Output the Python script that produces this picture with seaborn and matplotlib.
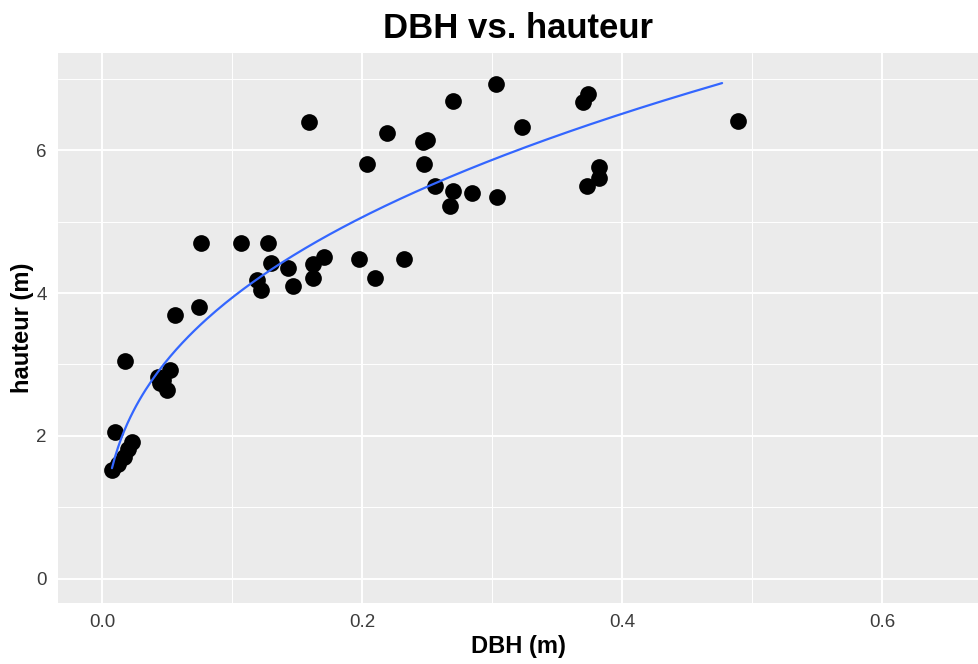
import numpy as np
import pandas as pd
import seaborn as sns
import matplotlib
matplotlib.use("Agg")
import matplotlib.pyplot as plt
from matplotlib.ticker import FixedLocator, FormatStrFormatter

# Diamètre à hauteur de poitrine (m) et hauteur totale (m) des arbres mesurés
dbh = [0.0077, 0.0123, 0.0169, 0.020, 0.023, 0.010, 0.018,
       0.043, 0.045, 0.047, 0.050, 0.052, 0.056, 0.075, 0.076,
       0.107, 0.119, 0.122, 0.128, 0.130, 0.143, 0.147, 0.159,
       0.162, 0.162, 0.171, 0.198, 0.204, 0.210, 0.219, 0.232,
       0.247, 0.250, 0.248, 0.256, 0.268, 0.270, 0.270, 0.285,
       0.303, 0.304, 0.323, 0.370, 0.374, 0.373, 0.382, 0.382,
       0.489]
hauteur = [1.52, 1.61, 1.71, 1.82, 1.92, 2.06, 3.05,
           2.83, 2.74, 2.78, 2.64, 2.92, 3.69, 3.80, 4.70,
           4.70, 4.18, 4.04, 4.70, 4.42, 4.35, 4.10, 6.39,
           4.41, 4.21, 4.50, 4.48, 5.80, 4.21, 6.24, 4.48,
           6.11, 6.14, 5.80, 5.50, 5.22, 5.43, 6.69, 5.40,
           6.92, 5.34, 6.32, 6.67, 6.78, 5.50, 5.76, 5.61,
           6.41]

# Étendue de la courbe ajustée
courbe_x_min = 0.0077
courbe_x_max = 0.477

df = pd.DataFrame({"DBH": dbh, "hauteur": hauteur})

# Ajustement puissance : hauteur = a * DBH^b
b, ln_a = np.polyfit(np.log(df["DBH"]), np.log(df["hauteur"]), 1)
xs = np.linspace(courbe_x_min, courbe_x_max, 200)
fit = pd.DataFrame({"DBH": xs, "hauteur": np.exp(ln_a) * xs ** b})

sns.set_theme(style="darkgrid", rc={
    "axes.facecolor": "#EBEBEB",
    "grid.color": "white",
    "axes.edgecolor": "#EBEBEB",
})
plt.rcParams["font.family"] = ["Liberation Sans", "DejaVu Sans"]

fig = plt.figure(figsize=(9.79, 6.64), dpi=100)
W, H = 979, 664
ax = fig.add_axes([58 / W, (H - 603) / H, (979 - 58) / W, (603 - 53) / H])

sns.scatterplot(data=df, x="DBH", y="hauteur", ax=ax, color="black",
                s=145, linewidth=0, zorder=3)
sns.lineplot(data=fit, x="DBH", y="hauteur", ax=ax, color="#3366FF",
             linewidth=1.6, zorder=4)

ax.set_xlim(-0.0338, 0.6746)
ax.set_ylim(-0.336, 7.357)

ax.xaxis.set_major_locator(FixedLocator([0.0, 0.2, 0.4, 0.6]))
ax.xaxis.set_major_formatter(FormatStrFormatter("%.1f"))
ax.xaxis.set_minor_locator(FixedLocator([0.1, 0.3, 0.5]))
ax.yaxis.set_major_locator(FixedLocator([0, 2, 4, 6]))
ax.yaxis.set_minor_locator(FixedLocator([1, 3, 5, 7]))

ax.grid(which="major", color="white", linewidth=1.4)
ax.grid(which="minor", color="white", linewidth=0.7)
ax.tick_params(which="major", length=4, width=1, color="#333333",
               labelsize=13.5, labelcolor="#3C3C3C", pad=4)
ax.tick_params(which="minor", length=0)
for sp in ax.spines.values():
    sp.set_visible(False)

ax.set_xlabel("DBH (m)", fontsize=17, fontweight="bold", color="black",
              labelpad=3)
ax.set_ylabel("hauteur (m)", fontsize=17, fontweight="bold", color="black",
              labelpad=2)
fig.text((58 + 979) / 2 / W, 1 - 28 / H, "DBH vs. hauteur", fontsize=25,
         fontweight="bold", color="black", ha="center", va="center")

fig.savefig("out.png", dpi=100)
